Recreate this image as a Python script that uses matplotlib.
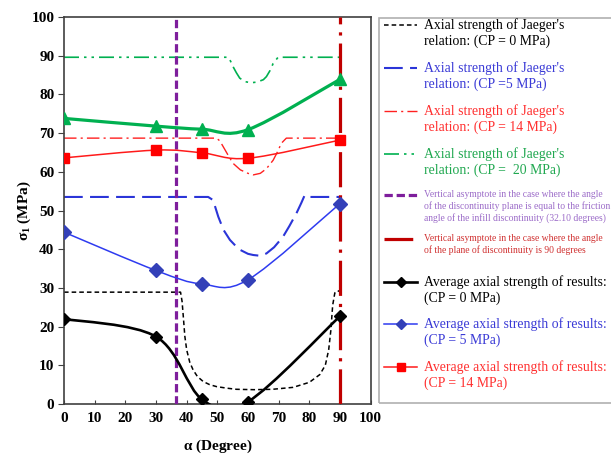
import matplotlib.pyplot as plt
import numpy as np
import matplotlib
from matplotlib.path import Path
from matplotlib.patches import PathPatch, Rectangle
from matplotlib.lines import Line2D

matplotlib.rcParams['font.family'] = ['Liberation Serif', 'DejaVu Serif']
matplotlib.rcParams['mathtext.fontset'] = 'custom'
matplotlib.rcParams['mathtext.rm'] = 'Liberation Serif'
matplotlib.rcParams['mathtext.bf'] = 'Liberation Serif:bold'

# ---- data ----
alpha = [0, 30, 45, 60, 90]
res_cp0 = [22.0, 17.4, 1.2, 0.6, 22.7]
res_cp5 = [44.4, 34.5, 31.0, 32.1, 51.8]
res_cp14 = [63.6, 65.6, 64.9, 63.5, 68.2]
res_cp20 = [73.8, 71.8, 71.0, 70.9, 83.9]

jx_cp0 = [0, 38.0, 38.5, 38.9, 39.4, 40, 41, 42.1, 43.5, 45.4, 47.5, 49.7, 53, 56.2, 62,
          68, 74.7, 80, 83.4, 85.2, 86.3, 87, 87.6, 88.3, 89.2, 90]
jy_cp0 = [28.9, 28.9, 26.5, 22.6, 17.5, 14, 10.8, 8.8, 7.1, 5.8, 5.0, 4.5, 4.1, 3.8, 3.7,
          3.8, 4.3, 5.6, 7.6, 10.0, 14, 19, 25.5, 28.7, 29.3, 29.0]
jx_cp5 = [0, 47.0, 48.6, 50.3, 52, 54.1, 57, 60, 61.7, 64, 66, 68.5, 71.4, 73.5, 75.8,
          77.4, 78.5, 80, 90]
jy_cp5 = [53.5, 53.5, 52.7, 48.4, 45, 42.4, 40, 38.8, 38.5, 38.3, 38.9, 40.5, 43.2, 46,
          49.3, 52, 54, 53.5, 53.5]
jx_cp14 = [0, 49.7, 50.8, 51.9, 53.5, 55.1, 57.5, 60, 61.7, 64, 66, 68.2, 69.5, 70.9, 72.5, 90]
jy_cp14 = [68.7, 68.7, 68.0, 66.5, 64.3, 62.2, 60.5, 59.6, 59.2, 59.6, 60.8, 63.0, 65.0,
           67.4, 68.7, 68.7]
jx_cp20 = [0, 53.5, 54.3, 55.1, 56.2, 57.3, 59, 61, 63, 65, 66, 67.2, 68.2, 69.8, 90]
jy_cp20 = [89.6, 89.6, 88.6, 87.2, 85.6, 84.2, 83.3, 83.0, 83.2, 83.8, 84.6, 86.2, 88.0,
           89.6, 89.6]

asym_friction = 36.4
asym_90 = 90

W, H = 611, 454
fig = plt.figure(figsize=(W / 100, H / 100), dpi=100)
ax = fig.add_axes([64 / W, 1 - 404 / H, (370.7 - 64) / W, (404 - 17) / H])


def smooth_path(xs, ys):
    # excel-like smoothed line (bezier through the points)
    pts = np.column_stack([xs, ys]).astype(float)
    n = len(pts)
    verts = [pts[0]]
    codes = [Path.MOVETO]
    for i in range(n - 1):
        p0 = pts[i - 1] if i > 0 else pts[i]
        p3 = pts[i + 2] if i + 2 < n else pts[i + 1]
        c1 = pts[i] + (pts[i + 1] - p0) / 6
        c2 = pts[i + 1] - (p3 - pts[i]) / 6
        verts += [c1, c2, pts[i + 1]]
        codes += [Path.CURVE4] * 3
    return Path(verts, codes)


# Jaeger curves
ax.plot(jx_cp0, jy_cp0, color='black', lw=1.1, dashes=(3, 2))
ax.plot(jx_cp5, jy_cp5, color='#2B35D8', lw=1.5, dashes=(9, 3.5))
ax.plot(jx_cp14, jy_cp14, color='#FF2020', lw=1.0, dashes=(9, 3, 1.5, 3))
ax.plot(jx_cp20, jy_cp20, color='#00B050', lw=1.2, dashes=(9, 3, 1.5, 3, 1.5, 3))

# asymptotes
ax.axvline(asym_friction, color='#7E1E9C', lw=2.3, dashes=(2.6, 1.2), zorder=3)
ax.axvline(asym_90, color='#C00000', lw=2.3, dashes=(11, 2.5, 1, 2.5), zorder=3)

# results (smoothed lines with markers)
res_styles = [
    (res_cp0, 'black', 1.9, 'D', 'black', 6.5),
    (res_cp5, '#2E3BF0', 1.1, 'D', '#3340B8', 7),
    (res_cp14, '#FF1A1A', 1.1, 's', '#FF0000', 7.5),
    (res_cp20, '#00B050', 2.3, '^', '#00B050', 8.5),
]
for vals, col, lw, mk, mcol, ms in res_styles:
    ax.add_patch(PathPatch(smooth_path(alpha, vals), fill=False, ec=col, lw=lw, zorder=4))
    ax.plot(alpha, vals, ls='none', marker=mk, color=mcol, ms=ms, zorder=5)

ax.set_xlim(0, 100)
ax.set_ylim(0, 100)
ax.set_xticks(np.arange(0, 101, 10))
ax.set_yticks(np.arange(0, 101, 10))
for lab in ax.get_xticklabels() + ax.get_yticklabels():
    lab.set_fontweight('bold')
    lab.set_fontsize(11)
ax.tick_params(axis='x', direction='in', length=3, color='#404040', pad=6)
ax.tick_params(axis='y', direction='out', length=4, color='#404040', pad=3)
for s in ax.spines.values():
    s.set_color('#404040')
    s.set_linewidth(1.2)
ax.set_xlabel(r'$\mathbf{\alpha}$ (Degree)', fontsize=11, fontweight='bold', labelpad=9)
ax.set_ylabel(r'$\mathbf{\sigma_1}$ (MPa)', fontsize=11, fontweight='bold', labelpad=-1)


# ---- legend drawn in figure pixel coordinates ----
def fx(x):
    return x / W


def fy(y):
    return 1 - y / H


fig.add_artist(Rectangle((fx(379), fy(403)), fx(640) - fx(379), fy(18) - fy(403),
                         transform=fig.transFigure, fill=False, ec='#B0B0B0', lw=1.2))

# (y of first line, line colour, lw, dash style, marker, label, text colour, font size, line gap px)
entries = [
    (25, 'black', 1.1, dict(dashes=(3, 2)), None, "Axial strength of Jaeger's\nrelation: (CP = 0 MPa)", 'black', 9.9, 16.7),
    (68, '#2B35D8', 1.5, dict(dashes=(9, 3.5)), None, "Axial strength of Jaeger's\nrelation: (CP =5 MPa)", '#3A3AD6', 9.9, 16.7),
    (111, '#FF2020', 1.0, dict(dashes=(9, 3, 1.5, 3)), None, "Axial strength of Jaeger's\nrelation: (CP = 14 MPa)", '#FF3030', 9.9, 16.7),
    (154, '#00B050', 1.2, dict(dashes=(9, 3, 1.5, 3, 1.5, 3)), None, "Axial strength of Jaeger's\nrelation: (CP =  20 MPa)", '#20A850', 9.9, 16.7),
    (195, '#7E1E9C', 2.3, dict(dashes=(2.6, 1.2)), None,
     "Vertical asymptote in the case where the angle\nof the discontinuity plane is equal to the friction\nangle of the infill discontinuity (32.10 degrees)", '#9B6BC8', 6.9, 11.6),
    (239, '#C00000', 2.3, dict(dashes=(9, 3.2, 1, 3)), None,
     "Vertical asymptote in the case where the angle\nof the plane of discontinuity is 90 degrees", '#D03030', 6.9, 11.6),
    (282, 'black', 1.9, {}, ('D', 'black', 5), "Average axial strength of results:\n(CP = 0 MPa)", 'black', 9.9, 15.8),
    (324, '#2E3BF0', 1.1, {}, ('D', '#3340B8', 5), "Average axial strength of results:\n(CP = 5 MPa)", '#3A3AD6', 9.9, 15.8),
    (367, '#FF1A1A', 1.1, {}, ('s', '#FF0000', 6), "Average axial strength of results:\n(CP = 14 MPa)", '#FF3030', 9.9, 15.8),
]
for y, col, lw, ls, mk, text, tcol, fs, gap in entries:
    fig.add_artist(Line2D([fx(384), fx(417)], [fy(y), fy(y)], transform=fig.transFigure,
                          color=col, lw=lw, **ls))
    if mk is not None:
        fig.add_artist(Line2D([fx(400.5)], [fy(y)], transform=fig.transFigure, ls='none',
                              marker=mk[0], color=mk[1], ms=mk[2]))
    nlines = text.count('\n') + 1
    lsp = gap / (fs * 1.31)
    fig.text(fx(424), fy(y + (nlines - 1) * gap / 2), text, color=tcol, fontsize=fs,
             ha='left', va='center', linespacing=lsp, transform=fig.transFigure)

fig.savefig('out.png', dpi=100)
